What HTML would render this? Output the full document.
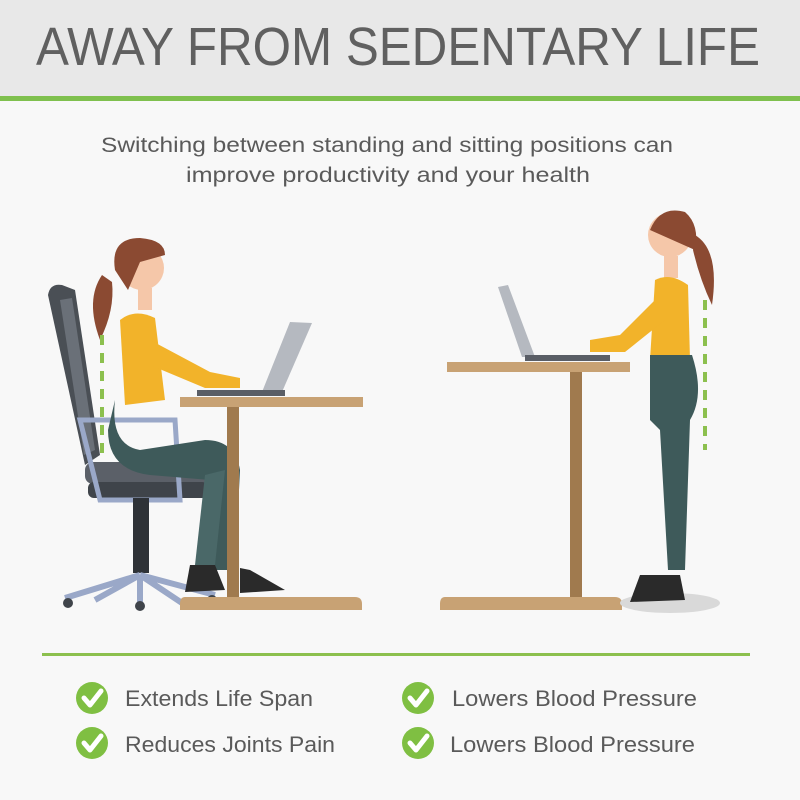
<!DOCTYPE html>
<html><head><meta charset="utf-8"><style>
html,body{margin:0;padding:0;width:800px;height:800px;overflow:hidden;background:#f8f8f8}
text{font-family:"Liberation Sans",sans-serif}
</style></head><body>
<svg width="800" height="800" viewBox="0 0 800 800" xmlns="http://www.w3.org/2000/svg">
<rect x="0" y="0" width="800" height="800" fill="#f8f8f8"/>
<rect x="0" y="0" width="800" height="96" fill="#e8e8e8"/>
<rect x="0" y="96" width="800" height="5" fill="#7fc04e"/>
<text x="398" y="65" text-anchor="middle" font-size="54" fill="#606060" textLength="724" lengthAdjust="spacingAndGlyphs">AWAY FROM SEDENTARY LIFE</text>
<text x="387" y="152" text-anchor="middle" font-size="21" fill="#5a5a5a" textLength="572" lengthAdjust="spacingAndGlyphs">Switching between standing and sitting positions can</text>
<text x="388" y="182" text-anchor="middle" font-size="21" fill="#5a5a5a" textLength="404" lengthAdjust="spacingAndGlyphs">improve productivity and your health</text>

<!-- LEFT SCENE -->
<!-- chair -->
<path d="M48 295 Q50 283 62 285 L75 290 L100 455 L85 465 Z" fill="#4a4f55"/>
<path d="M60 300 L72 298 L95 450 L84 455 Z" fill="#6a7078"/>
<rect x="85" y="462" width="125" height="22" rx="8" fill="#5b6068"/>
<rect x="88" y="482" width="120" height="16" rx="6" fill="#3f444a"/>
<path d="M80 420 L175 420 L180 500 L100 500 Z" fill="none" stroke="#9aa8c8" stroke-width="5"/>
<rect x="133" y="498" width="16" height="75" fill="#2e3237"/>
<path d="M140 575 L65 598 M140 575 L215 595 M140 575 L140 605 M140 575 L95 600 M140 575 L185 605" stroke="#9aa8c8" stroke-width="6"/>
<circle cx="68" cy="603" r="5" fill="#3f444a"/><circle cx="140" cy="606" r="5" fill="#3f444a"/><circle cx="212" cy="600" r="5" fill="#3f444a"/>
<!-- woman seated -->
<path d="M120 320 Q135 308 155 318 L165 400 L125 405 Z" fill="#f2b32a"/>
<path d="M150 340 L210 372 L240 378 L240 388 L205 388 L150 365 Z" fill="#f2b32a"/>
<path d="M115 400 Q110 445 140 450 L205 440 Q235 440 240 470 L235 570 L215 570 L210 480 L150 475 Q108 470 108 430 Z" fill="#3e5a5a"/>
<path d="M205 475 L195 565 L215 565 L225 470 Z" fill="#4a6868"/>
<path d="M190 565 L215 565 L225 590 L185 592 Z" fill="#2a2a2a"/>
<path d="M240 568 L250 570 L285 590 L240 593 Z" fill="#2a2a2a"/>
<circle cx="142" cy="268" r="22" fill="#f5c7a9"/>
<path d="M115 270 Q110 238 140 238 Q165 240 165 255 L140 262 L128 290 Z" fill="#8b4a32"/>
<path d="M102 275 Q85 300 100 340 Q115 310 112 282 Z" fill="#8b4a32"/>
<rect x="138" y="288" width="14" height="22" fill="#f5c7a9"/>
<line x1="102" y1="335" x2="102" y2="460" stroke="#8cc04e" stroke-width="4" stroke-dasharray="10,8"/>
<!-- left desk -->
<rect x="180" y="397" width="183" height="10" fill="#c8a274"/>
<rect x="227" y="407" width="12" height="190" fill="#a07a4e"/>
<path d="M185 597 L355 597 Q362 597 362 604 L362 610 L180 610 L180 604 Q180 597 185 597 Z" fill="#c8a274"/>
<path d="M290 322 L312 323 L282 392 L262 392 Z" fill="#b5b9c0"/>
<rect x="197" y="390" width="88" height="6" fill="#5a5e66"/>

<!-- RIGHT SCENE -->
<rect x="447" y="362" width="183" height="10" fill="#c8a274"/>
<rect x="570" y="372" width="12" height="225" fill="#a07a4e"/>
<path d="M445 597 L615 597 Q622 597 622 604 L622 610 L440 610 L440 604 Q440 597 445 597 Z" fill="#c8a274"/>
<path d="M498 287 L508 285 L535 357 L522 357 Z" fill="#b5b9c0"/>
<rect x="525" y="355" width="85" height="6" fill="#5a5e66"/>
<ellipse cx="670" cy="603" rx="50" ry="10" fill="#d9d9d9"/>
<circle cx="670" cy="235" r="22" fill="#f5c7a9"/>
<path d="M650 230 Q660 205 685 212 Q700 225 695 250 Z" fill="#8b4a32"/>
<path d="M695 235 Q720 250 712 305 Q700 280 693 250 Z" fill="#8b4a32"/>
<rect x="664" y="256" width="14" height="22" fill="#f5c7a9"/>
<path d="M655 280 Q670 272 688 285 L690 360 L650 360 Z" fill="#f2b32a"/>
<path d="M655 300 L620 335 L590 340 L590 352 L625 352 L665 320 Z" fill="#f2b32a"/>
<path d="M650 355 L692 355 Q705 395 690 420 L685 570 L668 570 L660 430 L650 420 Z" fill="#3e5a5a"/>
<path d="M640 575 L680 575 L685 600 L630 602 Z" fill="#2a2a2a"/>
<line x1="705" y1="300" x2="705" y2="450" stroke="#8cc04e" stroke-width="4" stroke-dasharray="10,8"/>

<!-- divider -->
<rect x="42" y="653" width="708" height="3" fill="#8cc04e"/>

<!-- checks -->
<g fill="#7fbf42">
<circle cx="92" cy="698" r="16"/><circle cx="92" cy="743" r="16"/>
<circle cx="418" cy="698" r="16"/><circle cx="418" cy="743" r="16"/>
</g>
<g fill="none" stroke="#fff" stroke-width="5" stroke-linecap="round" stroke-linejoin="round">
<path d="M84 698 L90 705 L101 691"/><path d="M84 743 L90 750 L101 736"/>
<path d="M410 698 L416 705 L427 691"/><path d="M410 743 L416 750 L427 736"/>
</g>
<g font-size="22" fill="#5a5a5a">
<text x="125" y="706" textLength="188" lengthAdjust="spacingAndGlyphs">Extends Life Span</text>
<text x="125" y="752" textLength="210" lengthAdjust="spacingAndGlyphs">Reduces Joints Pain</text>
<text x="452" y="706" textLength="245" lengthAdjust="spacingAndGlyphs">Lowers Blood Pressure</text>
<text x="450" y="752" textLength="245" lengthAdjust="spacingAndGlyphs">Lowers Blood Pressure</text>
</g>
</svg>
</body></html>
